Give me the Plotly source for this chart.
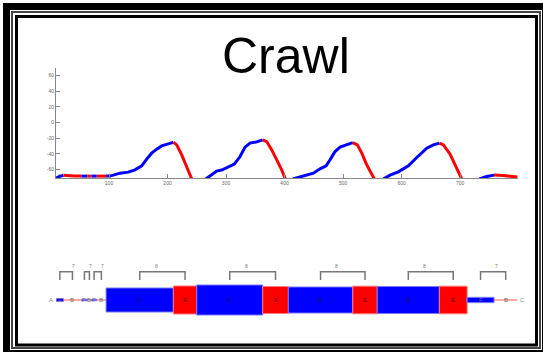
import plotly.graph_objects as go

W, H = 543, 352

# ---------------- data ----------------
curve_x = [10, 16, 22, 30, 40, 53, 63, 70, 79, 95, 101.7, 118.8, 133, 144.4, 155.9, 164.4, 173, 181.5, 190, 201.4, 210,
           215.7, 224.3, 232.8, 241.4,
           None,
           265.3, 275.5, 284, 292.6, 301.2, 314.2, 324, 332.5, 341, 352.5, 362.7, 369.6, 378.1, 386.7, 395.2, 401.5,
           None,
           414.1, 426.5, 438, 449.3, 460.7, 471, 477.8, 486.3, 494.9, 506.3, 516.6, 524.4, 532, 540.5, 553.6,
           None,
           568.9, 580.3, 594.5, 611.6, 626, 643, 654.4, 664.6, 671.5, 682.9, 691.5, 702.9,
           None,
           733, 745.6, 758, 774, 798]
curve_y = [-70.8, -68.5, -67.3, -68, -68.3, -68.3, -68.3, -68.3, -68.3, -68.3, -68.3, -64.5, -63.2, -60.3, -55.2, -46.6,
           -39, -33.9, -29.7, -27.1, -25, -28.4, -41.1, -56, -72,
           None,
           -72, -66.6, -61.9, -60.6, -57.3, -53, -43.3, -31.3, -26.2, -24.6, -22, -24.2, -34.8, -47.5, -60.3, -72,
           None,
           -72, -69.6, -67.5, -64.5, -59, -55.2, -47.5, -36.9, -31.3, -28, -25.5, -28.4, -39, -53.9, -72,
           None,
           -72, -67, -62.8, -55.2, -44.6, -32.6, -28.4, -26.2, -28.4, -40.3, -53.9, -72,
           None,
           -72, -68.8, -67, -67.5, -69.5]

phase_labels = ["F", "B", "F", "B", "F", "B", "D", "E", "D", "E", "D", "E", "D", "E", "F", "B"]
phase_start = [10, 22, 53, 63, 70, 79, 95, 210, 250, 362.7, 406.5, 516.6, 558.5, 664.6, 712, 758]
phase_end = [22, 53, 63, 70, 79, 95, 210, 250, 362.7, 406.5, 516.6, 558.5, 664.6, 712, 758, 798]
phase_size = [3, 1.5, 1.5, 1.5, 1.5, 1.5, 24, 28, 30, 27, 26, 27.6, 27, 27.6, 5.3, 1.5]

bracket_counts = [7, 7, 7, 8, 8, 8, 8, 7]
start_label = "A"
end_label = "C"
title_text = "Crawl"

x_ticks = [100, 200, 300, 400, 500, 600, 700]
y_ticks = [-60, -40, -20, 0, 20, 40, 60]

# ---------------- helpers ----------------
def px_x(p):
    return p / W


def px_y(p):
    return 1 - p / H


BLUE = "#0000ff"
RED = "#ff0000"
FONT = "Liberation Sans, Arial, sans-serif"


def phase_color(lbl):
    return BLUE if lbl in ("D", "F") else RED


def seg_points(start, end):
    xs, ys = [], []
    for x, y in zip(curve_x, curve_y):
        if x is None:
            if xs and xs[-1] is not None:
                xs.append(None)
                ys.append(None)
            continue
        if start - 1e-9 <= x <= end + 1e-9:
            xs.append(x)
            ys.append(y)
    return xs, ys


fig = go.Figure()

# top curve, coloured by phase
for lbl, s, e in zip(phase_labels, phase_start, phase_end):
    xs, ys = seg_points(s, e)
    if len([v for v in xs if v is not None]) < 2:
        continue
    fig.add_trace(go.Scatter(x=xs, y=ys, mode="lines",
                             line=dict(color=phase_color(lbl), width=3),
                             hoverinfo="skip", showlegend=False,
                             xaxis="x", yaxis="y"))

# bottom phase diagram
n = len(phase_labels)
bar_colors, edge_colors = [], []
for lbl in phase_labels:
    if lbl == "B":
        bar_colors.append("rgba(255,0,0,0.45)")
        edge_colors.append("rgba(255,0,0,0)")
    elif lbl == "E":
        bar_colors.append(RED)
        edge_colors.append("rgba(255,120,120,1)")
    else:
        bar_colors.append(BLUE)
        edge_colors.append("rgba(120,120,255,1)")

fig.add_trace(go.Bar(orientation="h",
                     base=phase_start,
                     x=[e - s for s, e in zip(phase_start, phase_end)],
                     y=[0] * n,
                     width=phase_size,
                     marker=dict(color=bar_colors, line=dict(color=edge_colors, width=1)),
                     hoverinfo="skip", showlegend=False,
                     xaxis="x2", yaxis="y2"))

annotations = []
centers = [(s + e) / 2 for s, e in zip(phase_start, phase_end)]
for lbl, c in zip(phase_labels, centers):
    big = lbl in ("D", "E")
    annotations.append(dict(x=c, y=0, xref="x2", yref="y2", text=lbl, showarrow=False,
                            font=dict(family=FONT, size=6,
                                      color="rgba(20,20,20,0.75)" if big else "rgba(110,110,110,1)")))
annotations.append(dict(x=phase_start[0], y=0, xref="x2", yref="y2", text=start_label,
                        showarrow=False, xanchor="right", xshift=-1,
                        font=dict(family=FONT, size=6, color="#888")))
annotations.append(dict(x=phase_end[-1], y=0, xref="x2", yref="y2", text=end_label,
                        showarrow=False, xanchor="left", xshift=1,
                        font=dict(family=FONT, size=6, color="#888")))

# brackets: from a D/F phase centre to the following E/B centre
pairs = [(i, i + 1) for i in range(n - 1) if phase_labels[i] in ("D", "F") and phase_labels[i + 1] in ("E", "B")]
bx, by = [], []
LEG, TOP = 20, 28.3
for (i, j), cnt in zip(pairs, bracket_counts):
    s, e = centers[i], centers[j]
    bx += [s, s, e, e, None]
    by += [LEG, TOP, TOP, LEG, None]
    annotations.append(dict(x=min(s + 28, e + 2), y=34, xref="x2", yref="y2", text=str(cnt),
                            showarrow=False, font=dict(family=FONT, size=5, color="#777")))
fig.add_trace(go.Scatter(x=bx, y=by, mode="lines", line=dict(color="#777", width=1.5),
                         hoverinfo="skip", showlegend=False, xaxis="x2", yaxis="y2"))

# title
annotations.append(dict(x=px_x(285.5), y=px_y(55.5), xref="paper", yref="paper", text=title_text,
                        showarrow=False, xanchor="center", yanchor="middle",
                        font=dict(family=FONT, size=50, color="black")))

# frame
shapes = [
    dict(type="rect", xref="paper", yref="paper", x0=px_x(6.5), x1=px_x(545.5), y0=px_y(6.5), y1=px_y(353.5),
         line=dict(color="black", width=7), fillcolor="rgba(0,0,0,0)"),
    dict(type="rect", xref="paper", yref="paper", x0=px_x(12), x1=px_x(540), y0=px_y(12), y1=px_y(348),
         line=dict(color="#444", width=2), fillcolor="rgba(0,0,0,0)"),
    dict(type="rect", xref="paper", yref="paper", x0=px_x(16.5), x1=px_x(536.5), y0=px_y(16.5), y1=px_y(345),
         line=dict(color="black", width=3), fillcolor="rgba(0,0,0,0)"),
]

x_dom = [px_x(56), px_x(518)]
axis_style = dict(showgrid=False, zeroline=False, showline=True, linecolor="#888", linewidth=1,
                  ticks="inside", ticklen=4, tickcolor="#888", tickwidth=1,
                  tickfont=dict(family=FONT, size=5, color="#666"))

fig.update_layout(
    width=W, height=H,
    margin=dict(l=0, r=0, t=0, b=0, pad=0),
    paper_bgcolor="white", plot_bgcolor="white",
    showlegend=False, barmode="overlay",
    xaxis=dict(domain=x_dom, range=[9.4, 799], tickvals=x_ticks, ticktext=[str(v) for v in x_ticks],
               anchor="y", **axis_style),
    yaxis=dict(domain=[px_y(178), px_y(68)], range=[-70.7, 69.7], tickvals=y_ticks,
               ticktext=[str(v) for v in y_ticks], anchor="x", **axis_style),
    xaxis2=dict(domain=x_dom, range=[9.4, 799], matches="x", visible=False, anchor="y2"),
    yaxis2=dict(domain=[px_y(350), px_y(250)], range=[-50, 50], visible=False, anchor="x2"),
    annotations=annotations,
    shapes=shapes,
)

fig.write_html("out.html", config={"displayModeBar": False, "staticPlot": True},
               post_script="document.body.style.margin='0';document.body.style.overflow='hidden';")
